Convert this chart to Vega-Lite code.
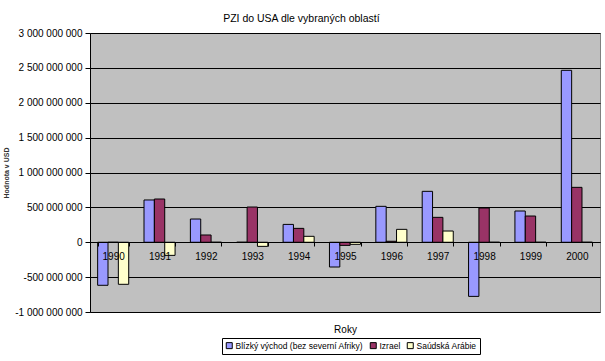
{
  "$schema": "https://vega.github.io/schema/vega-lite/v6.json",
  "width": 510,
  "height": 279,
  "autosize": {"type": "none"},
  "padding": {"left": 90, "top": 33, "right": 5, "bottom": 49},
  "background": "white",
  "title": {"text": "PZI do USA dle vybraných oblastí", "anchor": "middle", "frame": "bounds", "fontSize": 10.5, "fontWeight": "normal", "font": "Liberation Sans", "color": "black", "offset": 4},
  "config": {
    "locale": {"number": {"decimal": ",", "thousands": " ", "grouping": [3], "currency": ["", " Kč"], "minus": "-"}},
    "view": {"fill": "#C0C0C0", "stroke": "#808080"},
    "font": "Liberation Sans"
  },
  "data": {"values": [
    {"rok": "1990", "oblast": "Blízký východ (bez severní Afriky)", "hodnota": -617000000},
    {"rok": "1991", "oblast": "Blízký východ (bez severní Afriky)", "hodnota": 606000000},
    {"rok": "1992", "oblast": "Blízký východ (bez severní Afriky)", "hodnota": 333000000},
    {"rok": "1993", "oblast": "Blízký východ (bez severní Afriky)", "hodnota": 0},
    {"rok": "1994", "oblast": "Blízký východ (bez severní Afriky)", "hodnota": 256000000},
    {"rok": "1995", "oblast": "Blízký východ (bez severní Afriky)", "hodnota": -355000000},
    {"rok": "1996", "oblast": "Blízký východ (bez severní Afriky)", "hodnota": 515000000},
    {"rok": "1997", "oblast": "Blízký východ (bez severní Afriky)", "hodnota": 730000000},
    {"rok": "1998", "oblast": "Blízký východ (bez severní Afriky)", "hodnota": -776000000},
    {"rok": "1999", "oblast": "Blízký východ (bez severní Afriky)", "hodnota": 448000000},
    {"rok": "2000", "oblast": "Blízký východ (bez severní Afriky)", "hodnota": 2465000000},
    {"rok": "1990", "oblast": "Izrael", "hodnota": 0},
    {"rok": "1991", "oblast": "Izrael", "hodnota": 620000000},
    {"rok": "1992", "oblast": "Izrael", "hodnota": 104000000},
    {"rok": "1993", "oblast": "Izrael", "hodnota": 505000000},
    {"rok": "1994", "oblast": "Izrael", "hodnota": 199000000},
    {"rok": "1995", "oblast": "Izrael", "hodnota": -45000000},
    {"rok": "1996", "oblast": "Izrael", "hodnota": 14000000},
    {"rok": "1997", "oblast": "Izrael", "hodnota": 357000000},
    {"rok": "1998", "oblast": "Izrael", "hodnota": 491000000},
    {"rok": "1999", "oblast": "Izrael", "hodnota": 376000000},
    {"rok": "2000", "oblast": "Izrael", "hodnota": 787000000},
    {"rok": "1990", "oblast": "Saúdská Arábie", "hodnota": -603000000},
    {"rok": "1991", "oblast": "Saúdská Arábie", "hodnota": -188000000},
    {"rok": "1992", "oblast": "Saúdská Arábie", "hodnota": 0},
    {"rok": "1993", "oblast": "Saúdská Arábie", "hodnota": -59000000},
    {"rok": "1994", "oblast": "Saúdská Arábie", "hodnota": 85000000},
    {"rok": "1995", "oblast": "Saúdská Arábie", "hodnota": -30000000},
    {"rok": "1996", "oblast": "Saúdská Arábie", "hodnota": 185000000},
    {"rok": "1997", "oblast": "Saúdská Arábie", "hodnota": 161000000},
    {"rok": "1998", "oblast": "Saúdská Arábie", "hodnota": 0},
    {"rok": "1999", "oblast": "Saúdská Arábie", "hodnota": 0},
    {"rok": "2000", "oblast": "Saúdská Arábie", "hodnota": 0}
  ]},
  "mark": {"type": "bar", "stroke": "black", "strokeWidth": 1},
  "encoding": {
    "x": {
      "field": "rok", "type": "nominal",
      "scale": {"paddingInner": 0.33, "paddingOuter": 0.165},
      "axis": {"title": "Roky", "orient": "bottom", "offset": -70, "tickBand": "extent", "grid": false,
        "domainColor": "black", "tickColor": "black", "tickSize": 4, "labelAngle": 0, "labelFontSize": 10,
        "labelColor": "black", "labelPadding": 5, "titleFontSize": 10, "titleFontWeight": "normal",
        "titleColor": "black", "titlePadding": 63, "zindex": 1}
    },
    "xOffset": {
      "field": "oblast", "type": "nominal",
      "sort": ["Blízký východ (bez severní Afriky)", "Izrael", "Saúdská Arábie"],
      "scale": {"paddingInner": 0, "paddingOuter": 0}
    },
    "y": {
      "field": "hodnota", "type": "quantitative",
      "scale": {"domain": [-1000000000, 3000000000], "nice": false, "zero": false},
      "axis": {"title": "Hodnota v USD", "values": [-1000000000, -500000000, 0, 500000000, 1000000000, 1500000000, 2000000000, 2500000000, 3000000000],
        "format": ",d", "grid": true, "gridColor": "black", "gridOpacity": 1, "domainColor": "black", "tickColor": "black",
        "tickSize": 5, "labelFontSize": 10, "labelColor": "black", "labelPadding": 3, "titleFontSize": 7,
        "titleFontWeight": "bold", "titleColor": "#333333", "titlePadding": 5}
    },
    "color": {
      "field": "oblast", "type": "nominal",
      "scale": {"domain": ["Blízký východ (bez severní Afriky)", "Izrael", "Saúdská Arábie"], "range": ["#9999FF", "#993366", "#FFFFCC"]},
      "legend": {"title": null, "orient": "none", "legendX": 132, "legendY": 305, "direction": "horizontal", "strokeColor": "black", "fillColor": "white",
        "padding": 3, "symbolType": "square", "symbolSize": 36, "symbolStrokeColor": "black", "symbolStrokeWidth": 1,
        "labelFontSize": 8.5, "labelColor": "black", "columnPadding": 4, "labelOffset": 2}
    }
  }
}
